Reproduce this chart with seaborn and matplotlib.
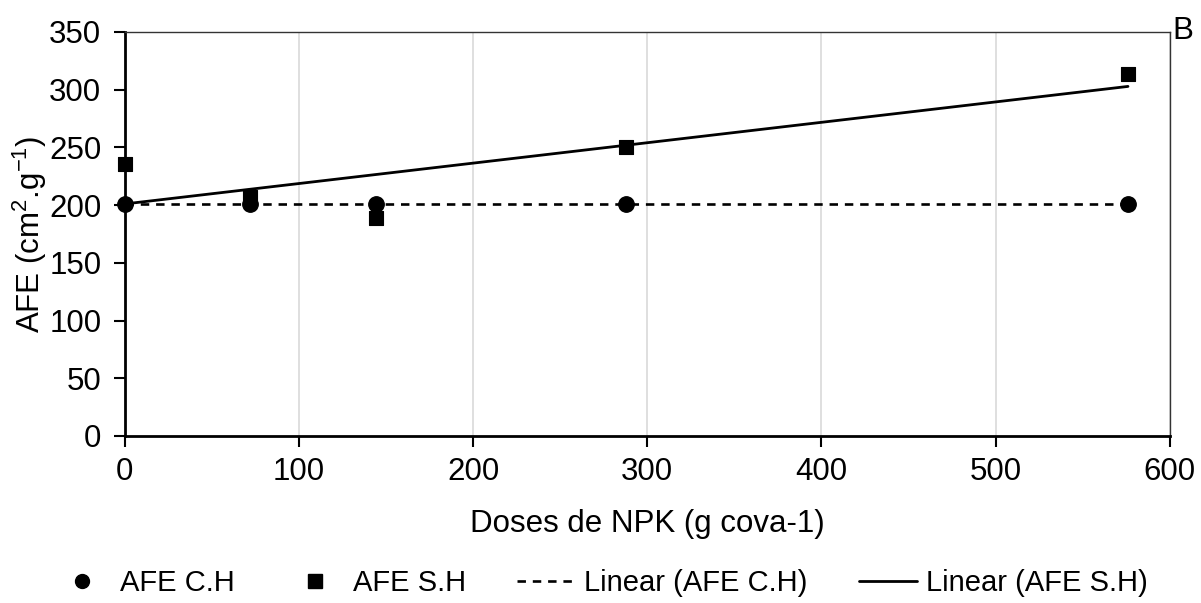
import numpy as np
import pandas as pd
import matplotlib
matplotlib.use("Agg")
import matplotlib.pyplot as plt
import seaborn as sns
from matplotlib.lines import Line2D

# data
doses = [0, 72, 144, 288, 576]
afe_ch = [201, 201, 201, 201, 201]
afe_sh = [236, 207, 189, 250, 314]

x_ticks = [0, 100, 200, 300, 400, 500, 600]
y_ticks = [0, 50, 100, 150, 200, 250, 300, 350]

df = pd.DataFrame({"dose": doses, "ch": afe_ch, "sh": afe_sh})

sns.set_style("white")
plt.rcParams["font.family"] = ["Liberation Sans", "DejaVu Sans"]
plt.rcParams["mathtext.fontset"] = "custom"
plt.rcParams["mathtext.rm"] = "Liberation Sans"
plt.rcParams["mathtext.it"] = "Liberation Sans"
plt.rcParams["text.color"] = "black"
plt.rcParams["axes.labelcolor"] = "black"
plt.rcParams["xtick.color"] = "black"
plt.rcParams["ytick.color"] = "black"

fs = 22.5
fig = plt.figure(figsize=(12.01, 6.03), dpi=100)
ax = fig.add_axes([0.104, 0.277, 0.87, 0.67])

# regression trend lines
sns.regplot(data=df, x="dose", y="ch", scatter=False, ci=None, ax=ax,
            line_kws={"color": "black", "lw": 1.9, "dashes": (3.2, 2.6)})
sns.regplot(data=df, x="dose", y="sh", scatter=False, ci=None, ax=ax,
            line_kws={"color": "black", "lw": 2.0})

# points
sns.scatterplot(data=df, x="dose", y="ch", marker="o", s=125, color="black",
                edgecolor="black", ax=ax, zorder=5, clip_on=False)
sns.scatterplot(data=df, x="dose", y="sh", marker="s", s=100, color="black",
                edgecolor="black", ax=ax, zorder=5, clip_on=False)

ax.set_xlim(0, 600)
ax.set_ylim(0, 350)
ax.set_xticks(x_ticks)
ax.set_yticks(y_ticks)
ax.tick_params(axis="both", labelsize=fs, length=8, width=1.5, color="black",
               direction="out", bottom=True, left=True)
ax.tick_params(axis="y", pad=9)
ax.tick_params(axis="x", pad=7)
ax.xaxis.grid(True, color="#d9d9d9", lw=1.2)
ax.yaxis.grid(False)
ax.set_axisbelow(True)

for side in ["left", "bottom"]:
    ax.spines[side].set_color("black")
    ax.spines[side].set_linewidth(2)
for side in ["top", "right"]:
    ax.spines[side].set_color("#333333")
    ax.spines[side].set_linewidth(1)

ax.set_xlabel("Doses de NPK (g cova-1)", fontsize=fs, labelpad=16)
ax.set_ylabel("AFE (cm$^{2}$.g$^{-1}$)", fontsize=fs, labelpad=0)

handles = [
    Line2D([], [], marker="o", ls="none", color="black", ms=10),
    Line2D([], [], marker="s", ls="none", color="black", ms=9.5),
    Line2D([], [], color="black", lw=1.9, dashes=(3.2, 2.6)),
    Line2D([], [], color="black", lw=2.0),
]
labels = ["AFE C.H", "AFE S.H", "Linear (AFE C.H)", "Linear (AFE S.H)"]
fig.legend(handles, labels, loc="center", bbox_to_anchor=(0.5, 0.033), ncol=4,
           frameon=False, fontsize=21, handlelength=2.0, handletextpad=0.3,
           columnspacing=1.75)

fig.text(0.976, 0.948, "B", fontsize=fs, ha="left", va="center")

fig.savefig("out.png", dpi=100)
